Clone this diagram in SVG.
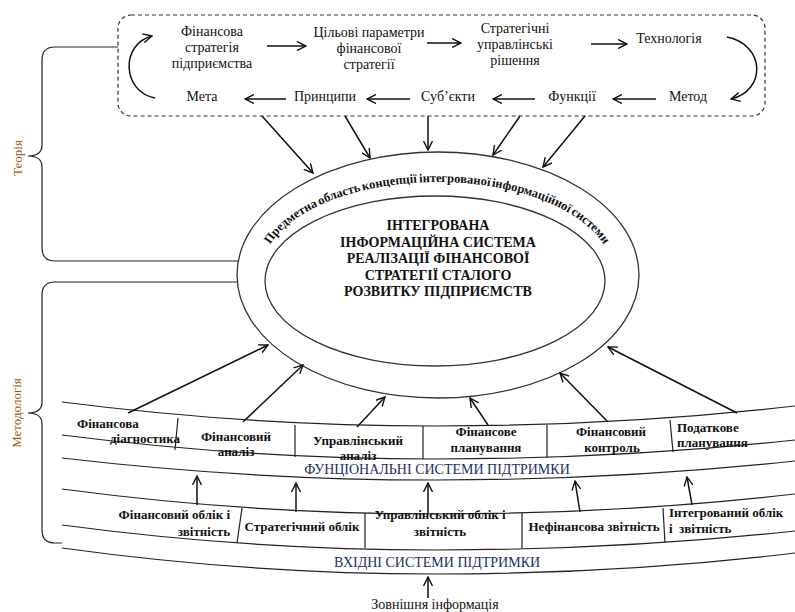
<svg xmlns="http://www.w3.org/2000/svg" width="795" height="612" viewBox="0 0 795 612" font-family="'Liberation Serif', 'Times New Roman', serif">
<style>
text{fill:#111}
.t{font-size:14px;text-anchor:middle}
.b{font-size:13px;font-weight:bold;text-anchor:middle}
.s{text-anchor:start}
.e{text-anchor:end}
.c{font-size:14px;font-weight:bold;text-anchor:middle}
.r{font-size:12.5px;font-weight:bold}
.nv{font-size:14px;fill:#1c2f66;text-anchor:middle}
.lb{font-size:13px;fill:#9a5a14;text-anchor:middle}
.ln{fill:none;stroke:#222;stroke-width:1.2}
.ar{fill:none;stroke:#111;stroke-width:1.5;marker-end:url(#ah)}
</style>
<defs>
<marker id="ah" viewBox="0 0 10 10" refX="9" refY="5" markerWidth="10" markerHeight="10" markerUnits="userSpaceOnUse" orient="auto">
<path d="M0,0.5 L9,5 L0,9.5" fill="none" stroke="#111" stroke-width="1.4"/>
</marker>
<path id="ring" d="M262,272 A175,90 0 0 1 612,272"/>
</defs>
<rect width="795" height="612" fill="#fff"/>

<g id="braces">
<path class="ln" d="M118,47 H55 Q42,47 42,60 V145 Q42,156 28,156 Q42,156 42,167 V248 Q42,261 55,261 H238"/>
<path class="ln" d="M238,282 H55 Q42,282 42,295 V402 Q42,413 28,413 Q42,413 42,424 V530 Q42,543 55,543 H62"/>
<text class="lb" transform="translate(22,158) rotate(-90)">Теорія</text>
<text class="lb" transform="translate(21,413) rotate(-90)">Методологія</text>
</g>

<g id="theory-box">
<rect x="118" y="15" width="647" height="101" rx="13" fill="none" stroke="#333" stroke-width="1.2" stroke-dasharray="4 3"/>
<g id="n-strategy"><text class="t" x="212" y="36">Фінансова</text><text class="t" x="212" y="52">стратегія</text><text class="t" x="212" y="68">підприємства</text></g>
<g id="n-params"><text class="t" x="369" y="37">Цільові параметри</text><text class="t" x="369" y="53">фінансової</text><text class="t" x="369" y="69">стратегії</text></g>
<g id="n-decisions"><text class="t" x="515" y="33">Стратегічні</text><text class="t" x="515" y="49">управлінські</text><text class="t" x="515" y="65">рішення</text></g>
<g id="n-tech"><text class="t" x="669" y="43">Технологія</text></g>
<g id="n-goal"><text class="t" x="202" y="101">Мета</text></g>
<g id="n-principles"><text class="t" x="325" y="101">Принципи</text></g>
<g id="n-subjects"><text class="t" x="448" y="101">Суб’єкти</text></g>
<g id="n-functions"><text class="t" x="572" y="101">Функції</text></g>
<g id="n-method"><text class="t" x="688" y="101">Метод</text></g>
</g>

<g id="core">
<ellipse cx="438" cy="275" rx="201" ry="123" fill="none" stroke="#333" stroke-width="1.3"/>
<ellipse cx="435" cy="281" rx="170" ry="85" fill="none" stroke="#333" stroke-width="1.3"/>
<g id="ring-label" text-anchor="middle">
<text class="r"><textPath href="#ring" startOffset="60">Предметна</textPath></text>
<text class="r"><textPath href="#ring" startOffset="115">область</textPath></text>
<text class="r"><textPath href="#ring" startOffset="166">концепції</textPath></text>
<text class="r"><textPath href="#ring" startOffset="231">інтегрованої</textPath></text>
<text class="r"><textPath href="#ring" startOffset="309">інформаційної</textPath></text>
<text class="r"><textPath href="#ring" startOffset="375">системи</textPath></text>
</g>
<text class="c" x="438" y="230">ІНТЕГРОВАНА</text>
<text class="c" x="438" y="246.5">ІНФОРМАЦІЙНА СИСТЕМА</text>
<text class="c" x="438" y="263">РЕАЛІЗАЦІЇ ФІНАНСОВОЇ</text>
<text class="c" x="438" y="279.5">СТРАТЕГІЇ СТАЛОГО</text>
<text class="c" x="438" y="296">РОЗВИТКУ ПІДПРИЄМСТВ</text>
</g>

<g id="bands" class="ln">
<path d="M62,402 Q250,426 435,426 T795,406"/>
<path d="M62,435 Q250,459 435,459 T795,440"/>
<path d="M62,458 Q250,480 435,480 T795,461"/>
<path d="M62,489 Q250,514 435,514 T795,494"/>
<path d="M62,525 Q250,550 435,550 T795,531"/>
<path d="M62,548 Q250,574 435,574 T795,553"/>
<path d="M178,418 L175,450 M295,425 V457 M423,426 V459 M547,425 V458 M670,420 L673,452"/>
<path d="M242,508 L237,543 M365,513 V548 M522,513 V548 M663,508 L665,543"/>
</g>

<g id="functional">
<g id="f-diag"><text class="b s" x="77" y="428">Фінансова</text><text class="b s" x="110" y="443">діагностика</text></g>
<g id="f-analysis"><text class="b" x="236" y="441">Фінансовий</text><text class="b" x="236" y="456">аналіз</text></g>
<g id="f-mgmt"><text class="b" x="358" y="445">Управлінський</text><text class="b" x="358" y="460">аналіз</text></g>
<g id="f-plan"><text class="b" x="486" y="436">Фінансове</text><text class="b" x="486" y="452">планування</text></g>
<g id="f-control"><text class="b" x="611" y="436">Фінансовий</text><text class="b" x="612" y="452">контроль</text></g>
<g id="f-tax"><text class="b s" x="677" y="432">Податкове</text><text class="b s" x="677" y="447">планування</text></g>
<text class="nv" x="437" y="474">ФУНЦІОНАЛЬНІ СИСТЕМИ ПІДТРИМКИ</text>
</g>

<g id="input">
<g id="i-fin"><text class="b e" x="230" y="519">Фінансовий облік і</text><text class="b e" x="230" y="536">звітність</text></g>
<g id="i-strat"><text class="b" x="302" y="531">Стратегічний облік</text></g>
<g id="i-mgmt"><text class="b" x="440" y="519">Управлінський облік і</text><text class="b" x="440" y="536">звітність</text></g>
<g id="i-nonfin"><text class="b" x="594" y="531">Нефінансова звітність</text></g>
<g id="i-integr"><text class="b s" x="669" y="517">Інтегрований облік</text><text class="b s" x="669" y="533">і&#160; звітність</text></g>
<text class="nv" x="437" y="567">ВХІДНІ СИСТЕМИ ПІДТРИМКИ</text>
</g>

<g id="external"><text class="t" x="435" y="609" font-size="15">Зовнішня інформація</text></g>

<g id="connectors">
<path class="ar" d="M267,46 H306"/>
<path class="ar" d="M427,43 H461"/>
<path class="ar" d="M591,44 H627"/>
<path class="ar" d="M286,99 H245"/>
<path class="ar" d="M410,99 H367"/>
<path class="ar" d="M535,99 H493"/>
<path class="ar" d="M656,99 H613"/>
<path class="ar" d="M155,98 C122,92 120,44 152,36"/>
<path class="ar" d="M727,37 C766,45 766,91 731,99"/>
<path class="ar" d="M262,116 L313,173"/>
<path class="ar" d="M345,116 L370,158"/>
<path class="ar" d="M428,116 V150"/>
<path class="ar" d="M520,116 L493,155"/>
<path class="ar" d="M585,116 L543,167"/>
<path class="ar" d="M128,413 L268,345"/>
<path class="ar" d="M243,422 L303,365"/>
<path class="ar" d="M357,427 L385,397"/>
<path class="ar" d="M488,425 L470,398"/>
<path class="ar" d="M608,422 L560,373"/>
<path class="ar" d="M737,413 L608,347"/>
<path class="ar" d="M197,505 V476"/>
<path class="ar" d="M296,512 V483"/>
<path class="ar" d="M428,513 V483"/>
<path class="ar" d="M580,512 L575,481"/>
<path class="ar" d="M692,505 L687,477"/>
<path class="ar" d="M428,598 V577"/>
</g>
</svg>
